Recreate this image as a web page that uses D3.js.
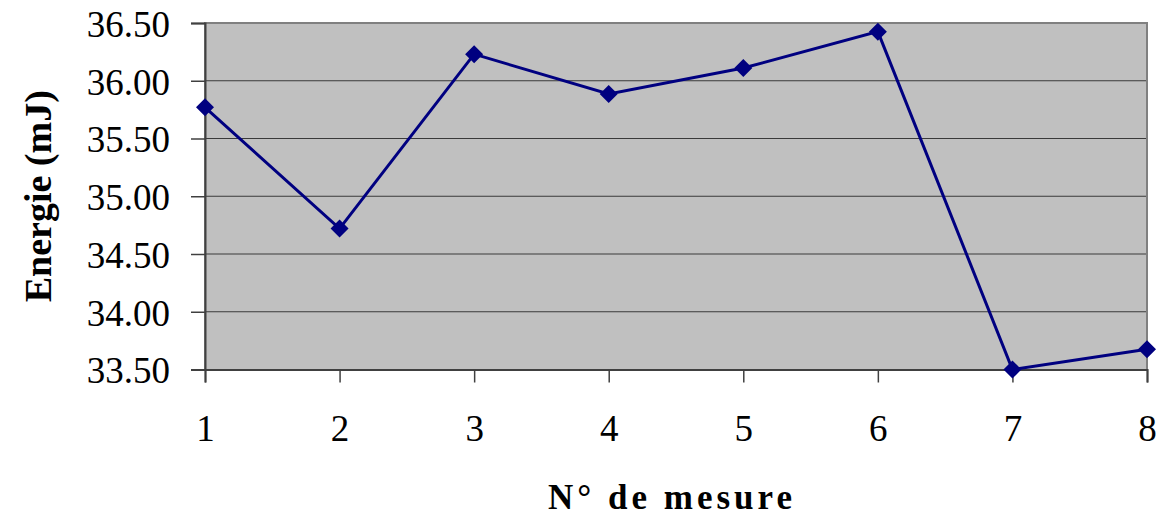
<!DOCTYPE html>
<html><head><meta charset="utf-8">
<script src="https://cdn.jsdelivr.net/npm/d3@7"></script>
<style>
body{margin:0;background:#fff;}
svg text{font-family:"Liberation Serif","Times New Roman",serif;fill:#000;}
</style></head>
<body><svg id="c" width="1167" height="518"></svg>
<script>
const categories = [1,2,3,4,5,6,7,8];
const energie = [35.77, 34.72, 36.23, 35.885, 36.11, 36.425, 33.50, 33.675];
const yTicks = [33.5, 34.0, 34.5, 35.0, 35.5, 36.0, 36.5];
const xTitle = "N° de mesure";
const yTitle = "Energie (mJ)";

const svg = d3.select("#c");
const L=205, R=1147, T=23, B=369.5;
const x = d3.scaleLinear().domain([1,8]).range([L,R]);
const y = d3.scaleLinear().domain([33.5,36.5]).range([B,T]);

svg.append("rect").attr("x",L).attr("y",T).attr("width",R-L).attr("height",B-T).attr("fill","#c0c0c0");

// gridlines
svg.append("g").selectAll("line").data(yTicks.slice(1,-1)).join("line")
  .attr("x1",L).attr("x2",R).attr("y1",d=>y(d)).attr("y2",d=>y(d))
  .attr("stroke","#3a3a3a").attr("stroke-width",1.2);

// border
svg.append("path").attr("d",`M${L},${B}V${T}H${R}V${B}`).attr("fill","none").attr("stroke","#808080").attr("stroke-width",2);

// y axis
const ya = svg.append("g").attr("transform",`translate(${L},0)`)
  .call(d3.axisLeft(y).tickValues(yTicks).tickFormat(d3.format(".2f")).tickSize(14).tickPadding(21));
ya.select(".domain").attr("stroke","#404040").attr("stroke-width",2);
ya.selectAll(".tick line").attr("stroke","#404040").attr("stroke-width",1.5);
ya.selectAll("text").attr("font-size",37).attr("dy","0.36em").style("font-family","Liberation Serif");

// x axis
const xa = svg.append("g").attr("transform",`translate(0,${B})`)
  .call(d3.axisBottom(x).tickValues(categories).tickFormat(d3.format("d")).tickSize(13).tickPadding(32));
xa.select(".domain").attr("stroke","#404040").attr("stroke-width",2);
xa.selectAll(".tick line").attr("stroke","#404040").attr("stroke-width",1.5);
xa.selectAll("text").attr("font-size",37).style("font-family","Liberation Serif");

// line
const line = d3.line().x((d,i)=>x(categories[i])).y(d=>y(d));
svg.append("path").datum(energie).attr("d",line).attr("fill","none").attr("stroke","#000080").attr("stroke-width",3);

// markers
svg.append("g").selectAll("path").data(energie).join("path")
  .attr("transform",(d,i)=>`translate(${x(categories[i])},${y(d)})`)
  .attr("d","M0,-9L9,0L0,9L-9,0Z").attr("fill","#000080");

// titles
svg.append("text").attr("x",(L+R)/2-4).attr("y",509).attr("text-anchor","middle")
  .attr("font-size",35).attr("font-weight","bold").style("letter-spacing","4px").text(xTitle);
svg.append("text").attr("transform",`translate(51,${(T+B)/2}) rotate(-90)`).attr("text-anchor","middle")
  .attr("font-size",38).attr("font-weight","bold").text(yTitle);
</script></body></html>
